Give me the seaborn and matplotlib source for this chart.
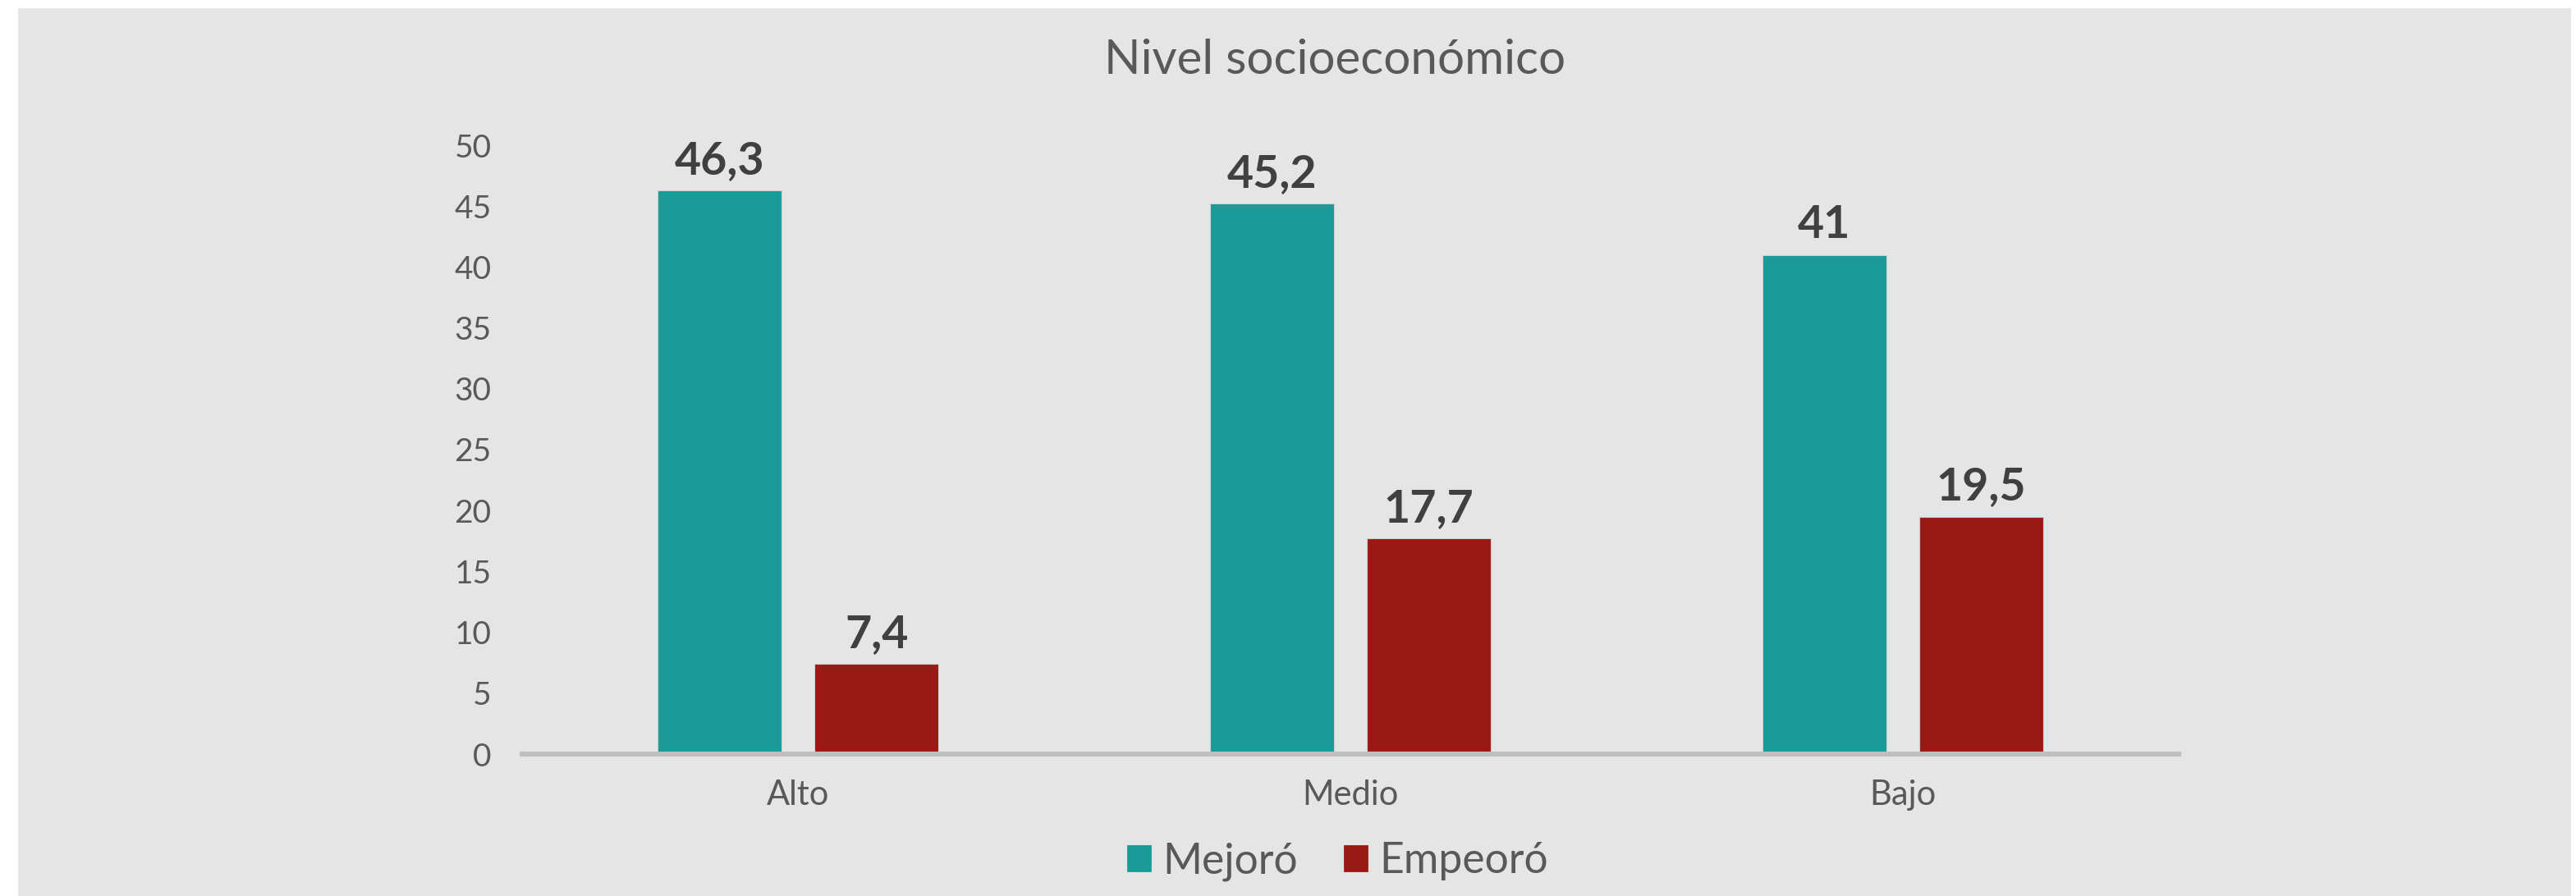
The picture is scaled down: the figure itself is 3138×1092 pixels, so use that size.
import pandas as pd
import matplotlib.pyplot as plt
import matplotlib.patches as mpatches
import seaborn as sns

# Datos
categorias = ['Alto', 'Medio', 'Bajo']
mejoro = [46.3, 45.2, 41]
empeoro = [7.4, 17.7, 19.5]
series = ['Mejoró', 'Empeoró']
colores = ['#1B9A97', '#991915']

df = pd.DataFrame({
    'nivel': categorias * 2,
    'valor': mejoro + empeoro,
    'serie': [series[0]] * 3 + [series[1]] * 3,
})

sns.set_theme(style='white')
plt.rcParams['font.family'] = ['Lato', 'DejaVu Sans']

W, H = 3138, 1092
fig = plt.figure(figsize=(W / 200, H / 200), dpi=200, facecolor='white')

# fondo gris del gráfico
fig.patches.append(mpatches.Rectangle((22 / W, 0), (3132 - 22) / W, (H - 10) / H,
                                      transform=fig.transFigure, facecolor='#E5E5E5',
                                      edgecolor='none', zorder=-5))

ax = fig.add_axes([636 / W, (H - 919) / H, (2654 - 636) / W, (919 - 177) / H])
ax.set_facecolor('none')

sns.barplot(data=df, x='nivel', y='valor', hue='serie', palette=colores,
            width=0.568, gap=0.21, saturation=1, linewidth=0.4,
            edgecolor='#D0D0D0', ax=ax, legend=False)

ax.set_xlim(-0.5, 2.5)
ax.set_ylim(0, 50)
ax.set_yticks(range(0, 51, 5))
ax.set_xlabel('')
ax.set_ylabel('')

for s in ['top', 'right', 'left']:
    ax.spines[s].set_visible(False)
ax.spines['bottom'].set_color('#BFBFBF')
ax.spines['bottom'].set_linewidth(2.2)
ax.spines['bottom'].set_zorder(5)

ax.tick_params(axis='y', length=0, pad=13.5, labelsize=14, labelcolor='#595959')
ax.tick_params(axis='x', length=0, pad=11, labelsize=15, labelcolor='#595959')

# etiquetas de datos
def fmt(v):
    s = f'{v:.1f}'.replace('.', ',')
    return s[:-2] if s.endswith(',0') else s

for cont, vals in zip(ax.containers, [mejoro, empeoro]):
    ax.bar_label(cont, labels=[fmt(v) for v in vals], padding=4,
                 fontsize=20, fontweight='bold', color='#404040')

fig.text(1626 / W, (H - 90) / H, 'Nivel socioeconómico', ha='center', va='baseline',
         fontsize=21, color='#595959')

handles = [mpatches.Patch(color=c, label=l) for c, l in zip(colores, series)]
leg = fig.legend(handles=handles, loc='center', bbox_to_anchor=(1630 / W, 42 / H),
                 ncol=2, frameon=False, fontsize=18.6, handlelength=0.52,
                 handleheight=0.52, handletextpad=0.29, columnspacing=1.12,
                 labelcolor='#595959')

fig.savefig('out.png', dpi=200, facecolor='white')
